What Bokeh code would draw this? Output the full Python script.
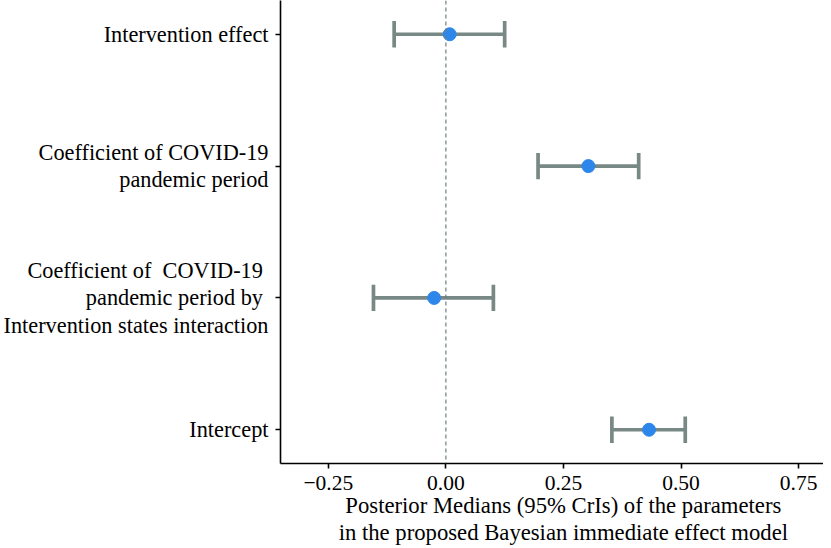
from bokeh.plotting import figure
from bokeh.models import Range1d, FixedTicker, Span
from bokeh.embed import file_html
from bokeh.resources import INLINE

# Data (bottom to top)
labels = [
    "Intercept",
    "Coefficient of\u00a0 COVID-19 \npandemic period by \nIntervention states interaction",
    "Coefficient of COVID-19\npandemic period",
    "Intervention effect",
]
median = [0.432, -0.025, 0.303, 0.008]
lower = [0.353, -0.154, 0.196, -0.110]
upper = [0.509, 0.101, 0.410, 0.125]
x_ticks = [-0.25, 0.0, 0.25, 0.5, 0.75]
x_tick_labels = ["\u22120.25", "0.00", "0.25", "0.50", "0.75"]
x_title_lines = ["Posterior Medians (95% CrIs) of the parameters",
                 "in the proposed Bayesian immediate effect model"]

ypos = [i + 1 for i in range(len(labels))]
cap = 0.1

FONT = "Liberation Serif"
GRAY = "#788884"
BLUE = "#2d86ea"

p = figure(width=823, height=548, output_backend="svg", toolbar_location=None,
           x_range=Range1d(-0.3517, 0.803), y_range=Range1d(0.744, 4.256),
           min_border_left=278, min_border_right=0, min_border_top=0, min_border_bottom=85)
p.outline_line_color = None
p.xgrid.visible = False
p.ygrid.visible = False
p.background_fill_color = "white"
p.border_fill_color = "white"

# zero reference line
p.add_layout(Span(location=0, dimension="height", line_color="#6f807e",
                  line_width=1.2, line_dash="4 3"))

# error bars
p.segment(x0=lower, y0=ypos, x1=upper, y1=ypos, line_color=GRAY, line_width=3.7)
p.segment(x0=lower, y0=[y - cap for y in ypos], x1=lower, y1=[y + cap for y in ypos],
          line_color=GRAY, line_width=3.7)
p.segment(x0=upper, y0=[y - cap for y in ypos], x1=upper, y1=[y + cap for y in ypos],
          line_color=GRAY, line_width=3.7)
p.scatter(x=median, y=ypos, size=13, fill_color=BLUE, line_color=BLUE)

# x axis
xa = p.xaxis[0]
xa.ticker = FixedTicker(ticks=x_ticks)
xa.major_label_overrides = {t: l for t, l in zip(x_ticks, x_tick_labels)}
xa.minor_tick_line_color = None
xa.axis_line_width = 1.6
xa.axis_line_color = "black"
xa.major_tick_line_color = "black"
xa.major_tick_line_width = 1.6
xa.major_tick_out = 5
xa.major_tick_in = 0
xa.major_label_standoff = 7
xa.major_label_text_font = FONT
xa.major_label_text_font_size = "21.5px"
xa.major_label_text_color = "black"
# title sits a little right of the panel centre in the original: pad with no-break spaces
pad = "\u00a0" * 4
xa.axis_label = "\n".join(pad + line for line in x_title_lines)
xa.axis_label_text_font = FONT
xa.axis_label_text_font_size = "22.7px"
xa.axis_label_text_font_style = "normal"
xa.axis_label_text_color = "black"
xa.axis_label_text_line_height = 1.1
xa.axis_label_standoff = 0

# y axis
ya = p.yaxis[0]
ya.ticker = FixedTicker(ticks=ypos)
ya.major_label_overrides = {y: l for y, l in zip(ypos, labels)}
ya.minor_tick_line_color = None
ya.axis_line_width = 1.6
ya.axis_line_color = "black"
ya.major_tick_line_color = "black"
ya.major_tick_line_width = 1.6
ya.major_tick_out = 5
ya.major_tick_in = 0
ya.major_label_standoff = 7
ya.major_label_text_font = FONT
ya.major_label_text_font_size = "22.3px"
ya.major_label_text_color = "black"
ya.major_label_text_line_height = 1.1

open("out.html", "w").write(file_html(p, INLINE))
